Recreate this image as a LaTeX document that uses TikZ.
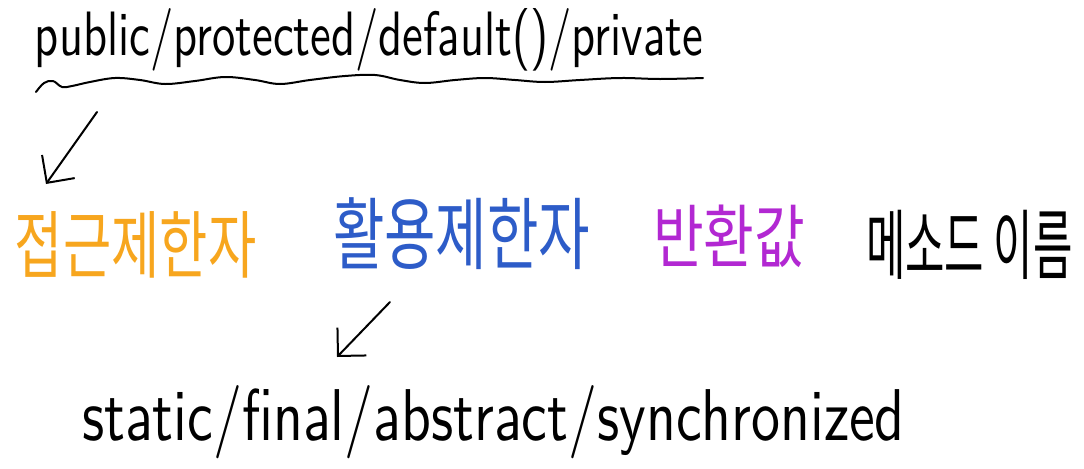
\documentclass[tikz,border=0pt]{standalone}
\usepackage{fontspec}
\usepackage{graphicx}
\newfontfamily\kr{Noto Sans CJK KR}
\usetikzlibrary{arrows.meta}
\definecolor{hworange}{RGB}{247,166,30}
\definecolor{hwblue}{RGB}{45,92,200}
\definecolor{hwpurple}{RGB}{178,40,210}
\begin{document}
\begin{tikzpicture}[x=0.75pt,y=-0.75pt,
  txt/.style={anchor=north west,inner sep=0pt,outer sep=0pt},
  pen/.style={line width=1.5pt,line cap=round,line join=round},
  hwarrow/.style={pen,-{Straight Barb[length=15pt,width=30pt,line width=1.5pt]}}]
\useasboundingbox (0,0) rectangle (1084,468);
\fill[white] (0,0) rectangle (1084,468);
% top modifiers
\node[txt] (access) at (35,8) {\resizebox*{501pt}{47pt}{\sffamily public/protected/default()/private}};
% wavy underline
\draw[pen] plot[smooth,tension=0.6] coordinates {(36,92) (44,83) (53,81) (62,87) (72,86) (90,82) (115,78) (140,80) (165,84) (195,81) (225,77) (255,80) (280,84) (310,80) (345,76) (375,75) (400,80) (425,83) (455,80) (485,78) (515,80) (545,82) (580,80) (620,78) (660,79) (703,78)};
% Korean labels
\node[txt,text=hworange] (k1) at (15,212) {\resizebox*{181pt}{50pt}{\kr 접근제한자}};
\node[txt,text=hwblue] (k2) at (333,198) {\resizebox*{193pt}{54pt}{\kr 활용제한자}};
\node[txt,text=hwpurple] (k3) at (653,205) {\resizebox*{114pt}{47pt}{\kr 반환값}};
\node[txt,text=black] (k4) at (866,210) {\resizebox*{155pt}{52pt}{\kr 메소드 이름}};
% bottom modifiers
\node[txt] (other) at (82,385) {\resizebox*{617pt}{55pt}{\sffamily static/final/abstract/synchronized}};
% arrows
\coordinate (a1s) at (97,112);
\coordinate (a1e) at (46,184);
\coordinate (a2s) at (390,302);
\coordinate (a2e) at (337,357);
\draw[hwarrow] (a1s) -- (a1e);
\draw[hwarrow] (a2s) -- (a2e);
\end{tikzpicture}
\end{document}
